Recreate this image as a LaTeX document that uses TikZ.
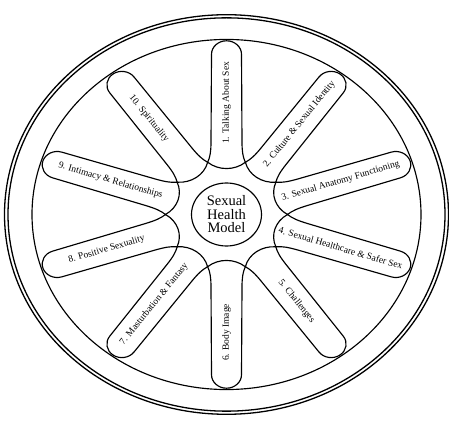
\documentclass[tikz,border=0pt]{standalone}
\usepackage{fontspec}
\setmainfont{Liberation Serif}
\tikzset{
  ln/.style={line width=1.15pt, black},
  rim/.style={line width=1.3pt, black},
  lbl/.style={font=\fontsize{9.5}{11}\selectfont, inner sep=0pt},
  ctr/.style={font=\fontsize{14.5}{13.5}\selectfont, align=center, inner sep=0pt}
}
\newcommand{\petalshape}{%
  \draw[ln] (58,18.85) .. controls (64,16.3) and (70,15.6) .. (80,15.5)
    -- (178,15) arc[start angle=90, end angle=-90, radius=15]
    -- (80,-15.5) .. controls (70,-15.6) and (64,-16.3) .. (58,-18.85)
    arc[start angle=220.6, end angle=139.4, radius=28.9] -- cycle;}
\begin{document}
\begin{tikzpicture}[x=1pt,y=1pt]
\useasboundingbox (0,0) rectangle (449,420);
\begin{scope}[shift={(226.5,205.5)}, yscale=0.9]
  \draw[rim] (0,0) circle (222);
  \draw[rim] (0,0) circle (218.5);
  \draw[ln] (0,0) circle (194.5);
  \draw[ln] (0,0) circle (35);
  \node[ctr] (center) at (0,0) {Sexual\\Health\\Model};
  \foreach \th in {90,54,18,-18,-54,-90,-126,-162,162,126}{
    \begin{scope}[rotate=\th]\petalshape\end{scope}
  }
  \foreach \th/\rot/\d/\nm/\txt in {
     90/90/124/p1/{1. Talking About Sex},
     54/51.1/124/p2/{2. Culture \& Sexual Identity},
     18/16.3/120/p3/{3. Sexual Anatomy Functioning},
     -18/-16.3/120/p4/{4. Sexual Healthcare \& Safer Sex},
     -54/-51.1/119/p5/{5. Challenges},
     -90/90/131/p6/{6. Body Image},
     -126/51.1/123/p7/{7. Masturbation \& Fantasy},
     -162/16.3/126/p8/{8. Positive Sexuality},
     162/-16.3/122/p9/{9. Intimacy \& Relationships},
     126/-51.1/132/p10/{10. Spirituality}}{
    \node[lbl, rotate=\rot] (\nm) at (\th:\d) {\txt};
  }
\end{scope}
\end{tikzpicture}
\end{document}
